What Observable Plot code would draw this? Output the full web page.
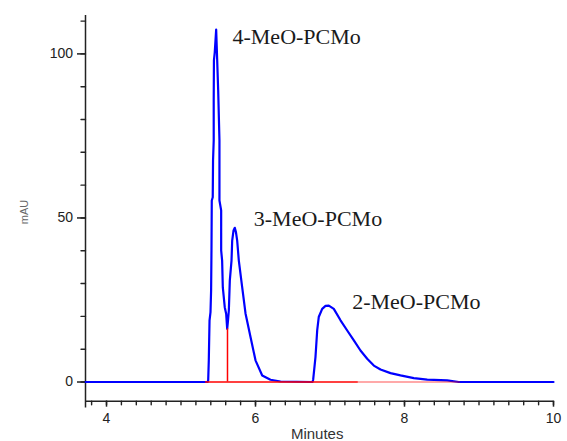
<!DOCTYPE html>
<html>
<head>
<meta charset="utf-8">
<script src="https://cdn.jsdelivr.net/npm/d3@7"></script>
<script src="https://cdn.jsdelivr.net/npm/@observablehq/plot@0.6"></script>
<style>
  html, body { margin: 0; padding: 0; background: #fff; }
  #chart { width: 567px; height: 441px; }
</style>
</head>
<body>
<div id="chart"></div>
<script>
// Chromatogram trace (blue): retention time (min) and absorbance (mAU)
const times = [3.72, 5.356, 5.365, 5.373, 5.383, 5.396, 5.404, 5.409, 5.413, 5.426, 5.430, 5.439, 5.439, 5.442, 5.453, 5.463, 5.472, 5.479, 5.485, 5.499, 5.516, 5.516, 5.539, 5.539, 5.552, 5.561, 5.587, 5.606, 5.620, 5.631, 5.642, 5.655, 5.678, 5.687, 5.705, 5.722, 5.738, 5.754, 5.776, 5.821, 5.866, 5.933, 6.000, 6.090, 6.201, 6.336, 6.765, 6.774, 6.805, 6.828, 6.849, 6.895, 6.940, 6.984, 7.051, 7.141, 7.231, 7.320, 7.409, 7.499, 7.588, 7.678, 7.812, 7.946, 8.125, 8.305, 8.573, 8.729, 10];
const mAU   = [0, 0, 0.5, 6.6, 18.8, 21.3, 27.9, 40.1, 55.3, 56.3, 67.5, 73.6, 85.8, 98.0, 100.5, 104.1, 107.4, 102.6, 98.5, 88.9, 73.6, 55.3, 52.3, 40.1, 37.0, 28.9, 22.8, 20.8, 16.2, 18.8, 21.8, 30.9, 37.0, 43.1, 46.2, 47.0, 45.6, 43.1, 37.0, 28.9, 20.9, 13.7, 6.6, 2.0, 0.7, 0.15, 0, 0.7, 7.6, 15.7, 19.8, 22.3, 23.2, 23.3, 22.3, 18.8, 15.7, 12.7, 9.6, 7.1, 5.0, 3.8, 2.7, 2.0, 1.2, 0.7, 0.5, 0, 0];

// Integration baseline (red) and drop line between peaks 1 and 2
const baseSolidX = [5.33, 7.38];
const basePaleX = [7.38, 8.75];
const dropT = [5.624];
const dropTop = [16.2];

// Peak labels
const peakNames = ["4-MeO-PCMo", "3-MeO-PCMo", "2-MeO-PCMo"];
const labelT = [5.691, 5.977, 7.298];
const labelY = [103.0, 47.4, 22.3];

// Axis ticks
const xMajor = [4, 6, 8, 10];
const xMinor = d3.range(38, 101, 2).map(d => d / 10);
const yMajor = [0, 50, 100];
const yMinor = d3.range(0, 111, 10);

const xDom = [3.718, 10];
const yDom = [-5.85, 111.7];

// a straight tick shape for vector marks
const tickShape = { draw(context, l) { context.moveTo(0, 0); context.lineTo(0, -l); } };

const chart = Plot.plot({
  width: 567,
  height: 441,
  marginLeft: 85,
  marginRight: 14,
  marginTop: 15,
  marginBottom: 40.3,
  style: { fontFamily: "Liberation Sans, Arial, sans-serif", fontSize: "14px", color: "#222", background: "#fff" },
  x: { domain: xDom, axis: null },
  y: { domain: yDom, axis: null },
  marks: [
    // axes lines
    Plot.ruleX([xDom[0]], { y1: -7.9, y2: yDom[1], stroke: "#222", strokeWidth: 1.5 }),
    Plot.ruleY([yDom[0]], { x1: xDom[0], x2: xDom[1], stroke: "#222", strokeWidth: 1.5 }),
    // minor ticks
    Plot.vector(yMinor, { x: yMinor.map(() => xDom[0]), y: yMinor, length: 4.5, rotate: -90, anchor: "start", shape: tickShape, stroke: "#222", strokeWidth: 1.4 }),
    Plot.vector(xMinor, { x: xMinor, y: xMinor.map(() => yDom[0]), length: 3.5, rotate: 180, anchor: "start", shape: tickShape, stroke: "#222", strokeWidth: 1.4 }),
    // major ticks with labels
    Plot.axisY({ ticks: yMajor, tickSize: 8, tickPadding: 4.5, tickFormat: d3.format("d"), stroke: "#222", strokeWidth: 1.5, fontSize: 14, label: null }),
    Plot.axisX({ ticks: xMajor, tickSize: 6, tickPadding: 6.3, tickFormat: d3.format("d"), stroke: "#222", strokeWidth: 1.5, fontSize: 14, label: null }),
    // axis titles
    Plot.text(["mAU"], { frameAnchor: "left", dx: -61, dy: 3.6, rotate: -90, fontSize: 11, fill: "#666", textAnchor: "middle", lineAnchor: "middle" }),
    Plot.text(["Minutes"], { frameAnchor: "bottom", dx: -2.3, dy: 38, fontSize: 15, fill: "#333", textAnchor: "middle", lineAnchor: "bottom" }),
    // chromatogram trace
    Plot.line(times, { x: times, y: mAU, stroke: "#0000ff", strokeWidth: 2.2, strokeLinejoin: "round" }),
    // integration baseline
    Plot.ruleY([0], { x1: baseSolidX[0], x2: baseSolidX[1], stroke: "#ff0000", strokeWidth: 1.5 }),
    Plot.ruleY([0], { x1: basePaleX[0], x2: basePaleX[1], stroke: "#ff0000", strokeOpacity: 0.45, strokeWidth: 1.5 }),
    Plot.ruleX(dropT, { x: dropT, y1: 0, y2: dropTop, stroke: "#ff0000", strokeWidth: 1.5 }),
    // peak labels
    Plot.text(peakNames, { x: labelT, y: labelY, text: peakNames, textAnchor: "start", lineAnchor: "bottom", fontFamily: "Liberation Serif, Times New Roman, serif", fontSize: 22, fill: "#1a1a1a" })
  ]
});
document.getElementById("chart").appendChild(chart);
</script>
</body>
</html>
